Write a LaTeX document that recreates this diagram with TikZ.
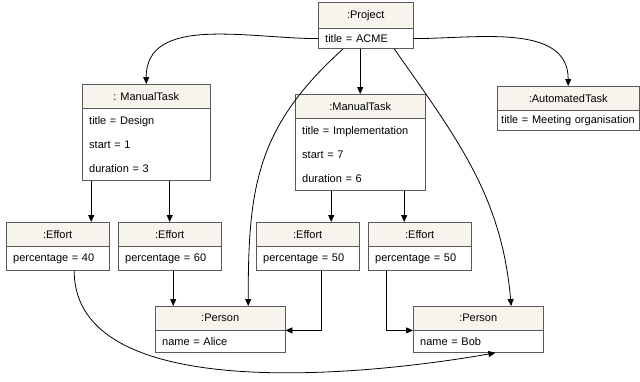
\documentclass[tikz,border=0pt]{standalone}
\usepackage{fontspec}
\setmainfont{Liberation Sans}
\usetikzlibrary{arrows.meta}

\definecolor{headfill}{HTML}{F6F4EC}
\definecolor{boxline}{HTML}{5A5A5A}

\tikzset{
    head/.style={draw=boxline, fill=headfill, anchor=north west, minimum height=24pt,
        inner sep=0pt, font=\fontsize{11}{13}\selectfont},
    body/.style={draw=boxline, fill=white, anchor=north west, align=left, inner xsep=7pt,
        inner ysep=0pt, minimum height=24pt, font=\fontsize{11}{13}\selectfont},
    rows/.style={font=\fontsize{11}{24}\selectfont, minimum height=72pt},
    link/.style={-{Triangle[length=7pt,width=6pt]}, black, line width=0.8pt}
}

\begin{document}
\begin{tikzpicture}[x=1pt,y=-1pt]
            \useasboundingbox (0,0) rectangle (640,381);

            % the project
            \node[head, minimum width=95pt, minimum height=26pt] (prjh) at (318,2) {:Project};
            \node[body, text width=81pt, minimum height=20pt] (prj) at (prjh.south west) {title = ACME};

            % the tasks
            \node[head, minimum width=128pt] (mt1h) at (82,84) {: ManualTask};
            \node[body, rows, text width=114pt] (mt1) at (mt1h.south west) {title = Design\\start = 1\\duration = 3};

            \node[head, minimum width=130pt] (mt2h) at (295,94) {:ManualTask};
            \node[body, rows, text width=116pt] (mt2) at (mt2h.south west) {title = Implementation\\start = 7\\duration = 6};

            \node[head, minimum width=142pt] (ath) at (497,86) {:AutomatedTask};
            \node[body, inner xsep=4pt, text width=134pt, minimum height=20pt] (at) at (ath.south west) {title = Meeting organisation};

            % the efforts
            \node[head, minimum width=103pt] (ef1h) at (6,222) {:Effort};
            \node[body, text width=89pt] (ef1) at (ef1h.south west) {percentage = 40};

            \node[head, minimum width=103pt] (ef2h) at (118,222) {:Effort};
            \node[body, text width=89pt] (ef2) at (ef2h.south west) {percentage = 60};

            \node[head, minimum width=103pt] (ef3h) at (256,222) {:Effort};
            \node[body, text width=89pt] (ef3) at (ef3h.south west) {percentage = 50};

            \node[head, minimum width=103pt] (ef4h) at (368,222) {:Effort};
            \node[body, text width=89pt] (ef4) at (ef4h.south west) {percentage = 50};

            % the persons
            \node[head, minimum width=130pt] (alh) at (155,306) {:Person};
            \node[body, text width=116pt, minimum height=22pt] (al) at (alh.south west) {name = Alice};

            \node[head, minimum width=130pt] (bobh) at (413,306) {:Person};
            \node[body, text width=116pt, minimum height=22pt] (bob) at (bobh.south west) {name = Bob};

            % links from the project
            \draw[link] (prj.west) to[out=180,in=90] (mt1h.north);
            \draw[link] (prj.east) to[out=0,in=90] (ath.north);
            \draw[link] (prj.south -| mt2h.north) -- (mt2h.north);
            \draw[link] ([xshift=-22.5pt]prj.south) to[out=222,in=90,looseness=1.1] ([xshift=28pt]alh.north);
            \draw[link] ([xshift=28.5pt]prj.south) to[out=-55,in=95] ([xshift=33pt]bobh.north);

            % links from the tasks
            \coordinate (m1a) at ([xshift=-55pt]mt1.south);
            \draw[link] (m1a) -- (m1a |- ef1h.north);
            \draw[link] (mt1.south -| ef2h.north) -- (ef2h.north);
            \coordinate (m2a) at ([xshift=-29pt]mt2.south);
            \draw[link] (m2a) -- (m2a |- ef3h.north);
            \coordinate (m2b) at ([xshift=44pt]mt2.south);
            \draw[link] (m2b) -- (m2b |- ef4h.north);

            % links from the efforts
            \draw[link] ([xshift=3.5pt]ef2.south) -- ([xshift=3.5pt]ef2.south |- alh.north);
            \draw[link] ([xshift=13.5pt]ef3.south) |- (alh.south east);
            \draw[link] ([xshift=-33.5pt]ef4.south) |- (bobh.south west);
            \draw[link] ([xshift=16.5pt]ef1.south) to[out=-90,in=190,looseness=0.8] ([xshift=-48pt]bob.south east);

        \end{tikzpicture}
\end{document}
